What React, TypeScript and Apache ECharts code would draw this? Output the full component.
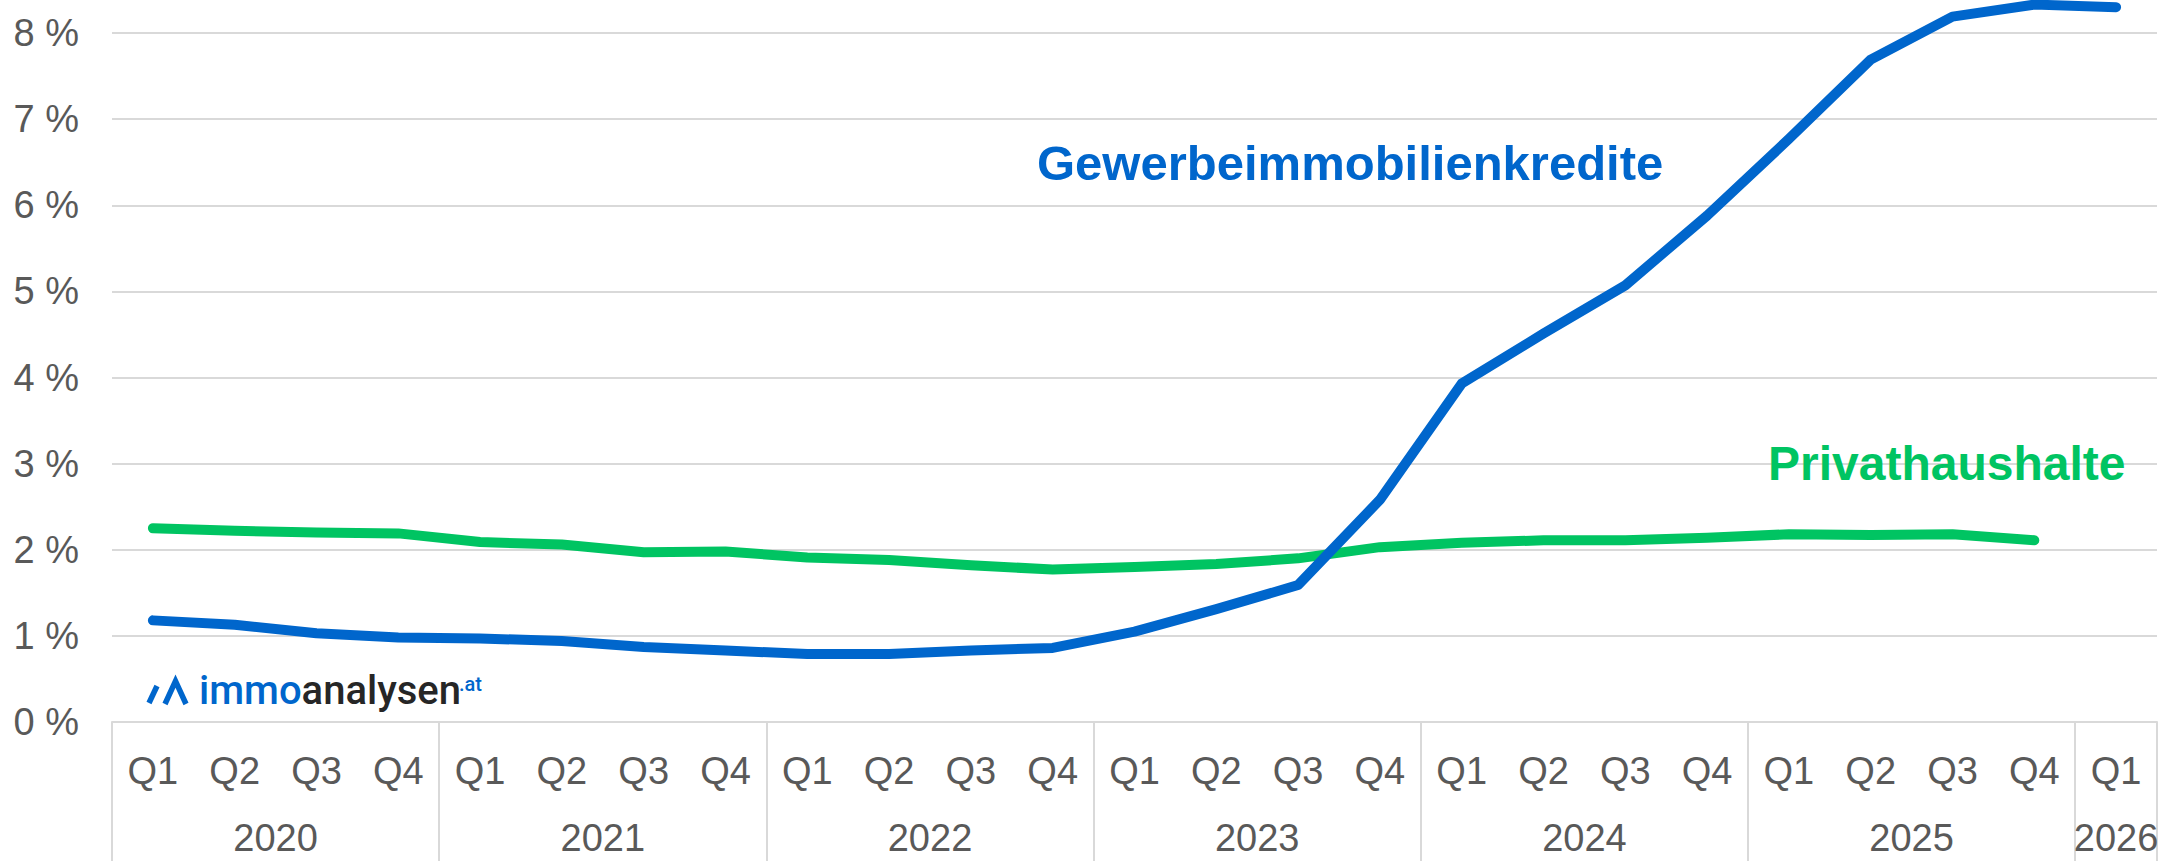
import React, { useEffect, useRef } from "react";
import * as echarts from "echarts";

const quarters = [
  "Q1", "Q2", "Q3", "Q4",
  "Q1", "Q2", "Q3", "Q4",
  "Q1", "Q2", "Q3", "Q4",
  "Q1", "Q2", "Q3", "Q4",
  "Q1", "Q2", "Q3", "Q4",
  "Q1", "Q2", "Q3", "Q4",
  "Q1",
];
const years = ["2020", "2021", "2022", "2023", "2024", "2025", "2026"];
const quartersPerYear = [4, 4, 4, 4, 4, 4, 1];

const gewerbeimmobilienkredite = [
  1.18, 1.13, 1.03, 0.98,
  0.97, 0.94, 0.87, 0.83,
  0.79, 0.79, 0.83, 0.86,
  1.05, 1.31, 1.59, 2.58,
  3.93, 4.51, 5.07, 5.88,
  6.77, 7.69, 8.19, 8.33,
  8.30,
];
const privathaushalte = [
  2.25, 2.22, 2.2, 2.19,
  2.09, 2.06, 1.97, 1.98,
  1.91, 1.88, 1.82, 1.77,
  1.8, 1.835, 1.9, 2.03,
  2.08, 2.11, 2.11, 2.14,
  2.18, 2.17, 2.18, 2.11,
  null,
];
const yTicks = [0, 1, 2, 3, 4, 5, 6, 7, 8];

const BLUE = "#0066CC";
const GREEN = "#00C462";
const GRID = "#D9D9D9";
const LABEL = "#595959";
const FONT = "'Liberation Sans', Arial, sans-serif";

export default function App() {
  const ref = useRef<HTMLDivElement>(null);

  useEffect(() => {
    if (!ref.current) return;
    const chart = echarts.init(ref.current, null, { renderer: "svg" });

    const boundaries: number[] = [0];
    const centers: number[] = [];
    let acc = 0;
    quartersPerYear.forEach((n) => {
      centers.push(acc + n / 2);
      acc += n;
      boundaries.push(acc);
    });

    chart.setOption({
      animation: false,
      grid: { left: 112, right: 26, top: 33, bottom: 139, containLabel: false },
      xAxis: [
        {
          type: "category",
          data: quarters,
          boundaryGap: true,
          position: "bottom",
          axisLine: { show: true, lineStyle: { color: GRID, width: 2 } },
          axisTick: { show: false },
          axisLabel: {
            color: LABEL,
            fontSize: 38,
            fontFamily: FONT,
            margin: 30,
            interval: 0,
          },
          splitLine: { show: false },
        },
        {
          type: "value",
          min: 0,
          max: quarters.length,
          position: "bottom",
          axisLine: { show: false },
          axisTick: {
            show: true,
            customValues: boundaries,
            length: 140,
            lineStyle: { color: GRID, width: 2 },
          },
          axisLabel: {
            show: true,
            customValues: centers,
            color: LABEL,
            fontSize: 38,
            lineHeight: 36,
            fontFamily: FONT,
            margin: 98,
            formatter: (v: number) => {
              const i = centers.findIndex((c) => Math.abs(c - v) < 1e-6);
              return i >= 0 ? years[i] : "";
            },
          },
          splitLine: { show: false },
        },
      ],
      yAxis: {
        type: "value",
        min: yTicks[0],
        max: yTicks[yTicks.length - 1],
        interval: 1,
        axisLine: { show: false },
        axisTick: { show: false },
        axisLabel: {
          color: LABEL,
          fontSize: 38,
          fontFamily: FONT,
          margin: 33,
          formatter: (v: number) => `${v} %`,
        },
        splitLine: { show: true, lineStyle: { color: GRID, width: 2 } },
      },
      series: [
        {
          name: "Privathaushalte",
          type: "line",
          data: privathaushalte,
          xAxisIndex: 0,
          symbol: "none",
          clip: false,
          lineStyle: { color: GREEN, width: 10, cap: "round", join: "round" },
          z: 3,
        },
        {
          name: "Gewerbeimmobilienkredite",
          type: "line",
          data: gewerbeimmobilienkredite,
          xAxisIndex: 0,
          symbol: "none",
          clip: false,
          lineStyle: { color: BLUE, width: 10, cap: "round", join: "round" },
          z: 4,
        },
      ],
      graphic: [
        {
          type: "text",
          left: 1037,
          top: 167 - 29,
          style: {
            text: "Gewerbeimmobilienkredite",
            fill: BLUE,
            font: `bold 49px ${FONT}`,
          },
          z: 10,
        },
        {
          type: "text",
          left: 1768,
          top: 467 - 28,
          style: {
            text: "Privathaushalte",
            fill: GREEN,
            font: `bold 48px ${FONT}`,
          },
          z: 10,
        },
        {
          type: "polyline",
          shape: { points: [[149, 703], [157, 686]] },
          style: { stroke: BLUE, lineWidth: 5.5, fill: "none" },
          z: 10,
        },
        {
          type: "polyline",
          shape: { points: [[165, 704], [175.5, 681], [186, 704]] },
          style: { stroke: BLUE, lineWidth: 5.5, fill: "none", lineJoin: "miter" },
          z: 10,
        },
        {
          type: "text",
          left: 199,
          top: 670,
          style: {
            text: "{a|immo}{b|analysen}",
            rich: {
              a: { fill: BLUE, fontSize: 40, fontFamily: "Roboto", fontWeight: 500 },
              b: { fill: "#262626", fontSize: 40, fontFamily: "Roboto", fontWeight: 500 },
            },
          },
          z: 10,
        },
        {
          type: "text",
          left: 459,
          top: 674,
          style: {
            text: ".at",
            fill: BLUE,
            font: "500 20px Roboto",
          },
          z: 10,
        },
      ],
    });

    return () => chart.dispose();
  }, []);

  return (
    <div
      ref={ref}
      style={{ position: "fixed", left: 0, top: 0, width: 2183, height: 861, background: "#fff" }}
    />
  );
}
